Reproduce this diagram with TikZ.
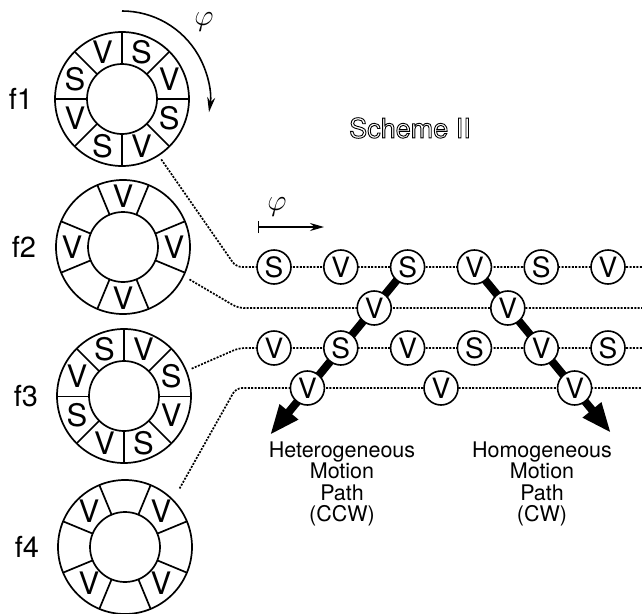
\RequirePackage{fix-cm}
\documentclass[tikz,border=0pt]{standalone}
\usepackage{fontspec}
\setmainfont{TeX Gyre Heros}
\usetikzlibrary{arrows.meta,calc,backgrounds}

\begin{document}
\begin{tikzpicture}[x=1pt, y=1pt, >=Stealth,
    ring/.style={line width=1.7pt},
    sector/.style={font=\fontsize{31}{31}\selectfont, inner sep=0pt},
    flabel/.style={font=\fontsize{29}{29}\selectfont, inner sep=0pt},
    track/.style={line width=1.7pt, dash pattern=on 2pt off 1.4pt, rounded corners=6pt},
    unit/.style={circle, draw, fill=white, line width=1.6pt, minimum size=34pt, inner sep=0pt, font=\fontsize{28}{28}\selectfont},
    motion/.style={line width=8pt, -{Triangle[length=30pt,width=22pt]}},
    pathlabel/.style={align=center, font=\fontsize{21.5}{21.5}\selectfont},
    scheme/.style={font=\fontsize{27}{27}\selectfont, inner sep=0pt},
    phase/.style={font=\fontsize{30}{30}\selectfont, inner sep=0pt}]
    \useasboundingbox (0,0) rectangle (642,-613);

    % rotor rings
    \coordinate (f1) at (122,-99);
    \coordinate (f2) at (123,-247);
    \coordinate (f3) at (124,-396);
    \coordinate (f4) at (125,-547);
    \foreach \f in {f1,f2,f3,f4}
        \draw[ring] (\f) circle[radius=67] (\f) circle[radius=35];
    \foreach \a in {45,90,135,225,270,315} {
        \draw[ring] ($(f1)+(\a:35)$) -- ($(f1)+(\a:67)$);
        \draw[ring] ($(f3)+(\a:35)$) -- ($(f3)+(\a:67)$);
    }
    \foreach \a in {0,180} {
        \draw[ring] ($(f1)+(\a:35)$) -- ($(f1)+(\a:67)$);
        \draw[line width=0.8pt] ($(f3)+(\a:35)$) -- ($(f3)+(\a:67)$);
    }
    \foreach \a in {22.5,67.5,...,337.5} {
        \draw[ring] ($(f2)+(\a:35)$) -- ($(f2)+(\a:67)$);
        \draw[ring] ($(f4)+(\a:35)$) -- ($(f4)+(\a:67)$);
    }
    \foreach \l [count=\i] in {V,S,V,S,V,S,V,S}
        \node[sector] (f1s\i) at ($(f1)+({157.5-45*\i}:51)$) {\l};
    \foreach \l [count=\i] in {S,V,S,V,S,V,S,V}
        \node[sector] (f3s\i) at ($(f3)+({157.5-45*\i}:51)$) {\l};
    \foreach \i in {1,...,4} {
        \node[sector] (f2s\i) at ($(f2)+({90*\i}:51)$) {V};
        \node[sector] (f4s\i) at ($(f4)+({90*\i-45}:51)$) {V};
    }
    \node[flabel] (f1name) at (21,-99) {f1};
    \node[flabel] (f2name) at (24,-247) {f2};
    \node[flabel] (f3name) at (26,-396) {f3};
    \node[flabel] (f4name) at (27,-547) {f4};

    % rotation of ring f1
    \draw[line width=1.6pt, -{Stealth[length=15pt,width=8pt]}] ($(f1)+(90:88)$) arc[start angle=90, end angle=-8.6, radius=88];
    \node[phase] (phiring) at (204,-22) {$\varphi$};

    % outlined title
    \node[scheme] (scheme) at (410,-128) {\special{pdf:literal direct 1 Tr 0.9 w}Scheme II\special{pdf:literal direct 0 Tr}};

    % phase axis
    \coordinate (phistart) at (258,-227);
    \coordinate (phiend) at (324,-227);
    \draw[line width=1.3pt, {Bar[width=12pt]}-{Stealth[length=14pt,width=8pt]}] (phistart) -- (phiend);
    \node[phase] (phi) at (277,-207) {$\varphi$};

    % units on the four tracks
    \foreach \k/\l in {0/S,2/V,4/S,6/V,8/S,10/V}
        \node[unit] (u1-\k) at ({274+33.4*\k},-267) {\l};
    \foreach \k/\l in {3/V,7/V}
        \node[unit] (u2-\k) at ({274+33.4*\k},-308) {\l};
    \foreach \k/\l in {0/V,2/S,4/V,6/S,8/V,10/S}
        \node[unit] (u3-\k) at ({274+33.4*\k},-348) {\l};
    \foreach \k/\l in {1/V,5/V,9/V}
        \node[unit] (u4-\k) at ({274+33.4*\k},-388) {\l};

    \coordinate (tipccw) at (270,-435);
    \coordinate (tipcw) at (611,-433);
    \begin{scope}[on background layer]
        \draw[track] ($(f1)+(-57:72)$) -- (236,-267) -- (642,-267);
        \draw[track] ($(f2)+(-26:74)$) -- (238,-308) -- (642,-308);
        \draw[track] ($(f3)+(22:73)$) -- (239,-348) -- (642,-348);
        \draw[track] ($(f4)+(47:80)$) -- (236,-388) -- (642,-388);
        \draw[motion] (u1-4.center) -- (tipccw);
        \draw[motion] (u1-6.center) -- (tipcw);
    \end{scope}

    \node[pathlabel] (hetero) at (342,-484) {Heterogeneous\\Motion\\Path\\(CCW)};
    \node[pathlabel] (homo) at (542,-484) {Homogeneous\\Motion\\Path\\(CW)};
\end{tikzpicture}
\end{document}
